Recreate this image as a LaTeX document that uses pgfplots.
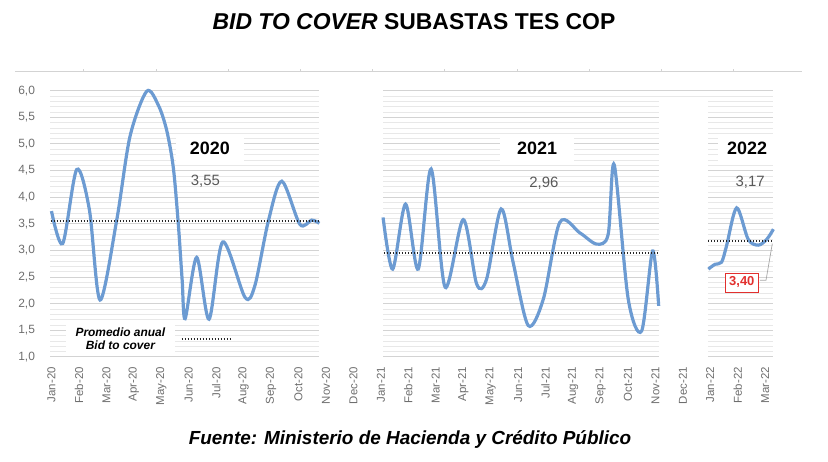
\documentclass[border=0pt]{standalone}
\usepackage{fontspec}
\setmainfont{Liberation Sans}
\usepackage{pgfplots}
\pgfplotsset{compat=1.18}

\definecolor{serie}{HTML}{6C9BD2}
\definecolor{ticktxt}{HTML}{6E6E6E}
\definecolor{valtxt}{HTML}{595959}
\definecolor{gridmaj}{HTML}{D3D3D3}
\definecolor{gridmin}{HTML}{E8E8E8}
\definecolor{rojo}{HTML}{E2302E}
\definecolor{promedio}{HTML}{262626}

\tikzset{avgline/.style={promedio, line width=2bp, dash pattern=on 1.2bp off 1.8bp}}

\begin{document}
\begin{tikzpicture}[x=1bp,y=1bp]
\path[use as bounding box] (0,0) rectangle (828,462);

% rule across the top of the chart area
\draw[gridmaj, line width=0.8bp] (15,391) -- (802,391);
\foreach \t in {83,156,228,300,372,444,517,589,661,733}
  \draw[gridmaj, line width=0.6bp] (\t,391) -- (\t,393);

% title
\node[font=\fontsize{23}{26}\selectfont\bfseries] at (414,440)
  {\textit{BID TO COVER} SUBASTAS TES COP};

\begin{axis}[
  at={(50.1bp,105bp)}, anchor=south west,
  scale only axis, width=723.3bp, height=266.3bp,
  xmin=-0.05, xmax=26.3, ymin=1, ymax=6,
  axis line style={draw=none},
  tick style={draw=none},
  major tick length=0pt, minor tick length=0pt,
  ytick={1,1.5,...,6.01},
  minor y tick num=4,
  ymajorgrids, yminorgrids,
  major grid style={gridmaj, line width=1bp},
  minor grid style={gridmin, line width=0.7bp},
  xtick={0,...,26},
  xticklabels={Jan-20,Feb-20,Mar-20,Apr-20,May-20,Jun-20,Jul-20,Aug-20,Sep-20,Oct-20,Nov-20,Dec-20,
    Jan-21,Feb-21,Mar-21,Apr-21,May-21,Jun-21,Jul-21,Aug-21,Sep-21,Oct-21,Nov-21,Dec-21,
    Jan-22,Feb-22,Mar-22},
  xticklabel style={rotate=90, anchor=east, inner xsep=10bp, inner ysep=0pt,
    font=\fontsize{11.5}{12}\selectfont, text=ticktxt},
  yticklabel style={anchor=east, inner xsep=15bp, inner ysep=0pt,
    font=\fontsize{12}{12}\selectfont, text=ticktxt,
    /pgf/number format/.cd, use comma, fixed, fixed zerofill, precision=1,
    assume math mode=true},
  clip=false,
]
% blank spaces between the three years
\fill[white] (axis cs:9.76,0.98) rectangle (axis cs:12.08,6.02);
\fill[white] (axis cs:22.12,0.98) rectangle (axis cs:23.93,5.85);

% year boxes and annual averages
\node[fill=white, inner xsep=14bp, inner ysep=7bp, font=\fontsize{18}{20}\selectfont\bfseries]
  at (axis cs:5.77,4.91) {2020};
\node[font=\fontsize{15}{17}\selectfont, text=valtxt] at (axis cs:5.61,4.30) {3,55};
\node[fill=white, inner xsep=17bp, inner ysep=7bp, font=\fontsize{18}{20}\selectfont\bfseries]
  at (axis cs:17.69,4.92) {2021};
\node[font=\fontsize{15}{17}\selectfont, text=valtxt] at (axis cs:17.94,4.27) {2,96};
\node[fill=white, inner xsep=9bp, inner ysep=7bp, font=\fontsize{18}{20}\selectfont\bfseries]
  at (axis cs:25.34,4.91) {2022};
\node[font=\fontsize{15}{17}\selectfont, text=valtxt] at (axis cs:25.45,4.29) {3,17};

% key for the dotted lines
\node[fill=white, inner xsep=10bp, inner ysep=5bp, align=center,
  font=\fontsize{12}{13.5}\selectfont\bfseries\itshape]
  at (axis cs:2.51,1.343) {Promedio anual\\Bid to cover};
\draw[avgline] (axis cs:4.74,1.33) -- (axis cs:6.50,1.33);

% bid to cover per auction
\addplot[serie, line width=3.2bp, smooth, tension=0.5] coordinates {
  (0.00,3.74) (0.41,3.13) (0.92,4.52) (1.38,3.77) (1.77,2.07) (2.38,3.58)
  (2.86,5.14) (3.47,5.99) (3.90,5.72) (4.20,5.25) (4.44,4.55) (4.62,3.50)
  (4.76,2.45) (4.87,1.72) (5.29,2.87)
  (5.74,1.71) (6.24,3.16) (7.05,2.12) (7.41,2.34) (7.90,3.55) (8.39,4.30)
  (9.05,3.49) (9.48,3.57) (9.76,3.51)};
\addplot[serie, line width=3.2bp, smooth, tension=0.5] coordinates {
  (12.08,3.62) (12.43,2.65) (12.90,3.87) (13.36,2.65) (13.83,4.53) (14.34,2.31)
  (15.00,3.58) (15.49,2.37) (15.85,2.46) (16.38,3.78) (16.82,2.77) (17.37,1.59)
  (17.92,2.09) (18.52,3.53) (19.25,3.33) (19.86,3.12) (20.28,3.30) (20.50,4.61)
  (21.01,2.09) (21.50,1.49) (21.90,2.99) (22.12,1.96)};
\addplot[serie, line width=3.2bp, smooth, tension=0.5] coordinates {
  (23.93,2.65) (24.17,2.74) (24.41,2.78) (24.59,3.08) (24.96,3.80) (25.38,3.21)
  (25.75,3.10) (26.06,3.21) (26.30,3.40)};

% annual averages
\addplot[avgline] coordinates {(-0.03,3.55) (9.71,3.55)};
\addplot[avgline] coordinates {(12.11,2.96) (22.12,2.96)};
\addplot[avgline] coordinates {(23.92,3.17) (26.30,3.17)};

% last value callout
\draw[gray!70, line width=0.7bp] (axis cs:25.81,2.44) -- (axis cs:26.03,2.44) -- (axis cs:26.26,3.13);
\node[draw=rojo, line width=0.8bp, fill=white, text=rojo, inner xsep=4bp, inner ysep=4bp,
  font=\fontsize{13}{14}\selectfont\bfseries] at (axis cs:25.15,2.40) {3,40};
\end{axis}

% source
\node[font=\fontsize{19}{21}\selectfont\bfseries\itshape] at (410,22)
  {Fuente: Ministerio de Hacienda y Crédito Público};
\end{tikzpicture}
\end{document}
